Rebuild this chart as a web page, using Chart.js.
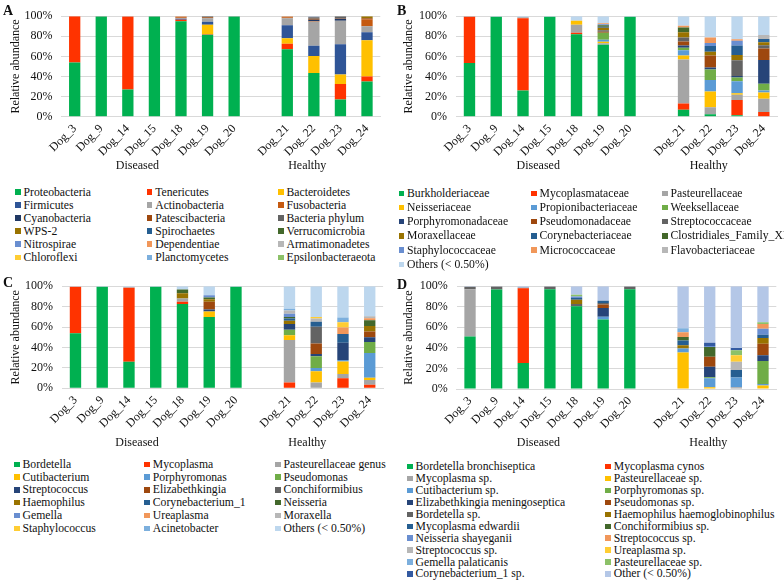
<!DOCTYPE html>
<html><head><meta charset="utf-8">
<script src="https://cdn.jsdelivr.net/npm/chart.js@4/dist/chart.umd.min.js"></script>
<style>
html,body{margin:0;padding:0;background:#fff}
body{width:784px;height:581px;position:relative;overflow:hidden;font-family:"Liberation Serif","Times New Roman",serif;color:#111}
.cv{position:absolute}
.letter{position:absolute;font-weight:bold;font-size:14px;line-height:14px}
.li{position:absolute;height:14px;display:flex;align-items:center;font-size:11.7px;white-space:nowrap}
.li span{display:inline-block;width:5.5px;height:5.5px;margin-right:3px;flex:none}
</style>
</head><body>
<canvas id="cA" class="cv" width="392" height="175" style="left:0;top:0"></canvas>
<canvas id="cB" class="cv" width="392" height="175" style="left:392px;top:0"></canvas>
<canvas id="cC" class="cv" width="392" height="185" style="left:0;top:270px"></canvas>
<canvas id="cD" class="cv" width="392" height="185" style="left:392px;top:270px"></canvas>
<script>
// ---------- shared categories ----------
const dogs = ['Dog_3','Dog_9','Dog_14','Dog_15','Dog_18','Dog_19','Dog_20','Dog_21','Dog_22','Dog_23','Dog_24'];
const groupNames = ['Diseased','Healthy'];
const diseasedDogs = ['Dog_3','Dog_9','Dog_14','Dog_15','Dog_18','Dog_19','Dog_20'];
const healthyDogs = ['Dog_21','Dog_22','Dog_23','Dog_24'];
const yTickValues = [0,20,40,60,80,100];

// ---------- A: phylum ----------
const phylumNames = ['Proteobacteria','Tenericutes','Bacteroidetes','Firmicutes','Actinobacteria','Fusobacteria','Cyanobacteria','Patescibacteria','Bacteria phylum','WPS-2','Spirochaetes','Verrucomicrobia','Nitrospirae','Dependentiae','Armatimonadetes','Chloroflexi','Planctomycetes','Epsilonbacteraeota'];
const phylumValues = [
  [54, 99.6, 27, 99.7, 95, 81.5, 99.7, 67, 43.5, 17, 35],
  [46, 0, 72.8, 0, 1.5, 0.5, 0, 5.5, 0, 15.5, 5],
  [0, 0, 0, 0, 0, 9.5, 0, 5.5, 17, 9.5, 36],
  [0, 0.2, 0, 0, 1, 3, 0, 13, 10, 30, 8],
  [0, 0, 0.2, 0, 0.5, 3.5, 0, 7, 24, 23.5, 6],
  [0, 0, 0, 0, 1, 0, 0, 1, 0.5, 0, 7],
  [0, 0, 0, 0, 0, 0, 0, 0, 1.5, 2, 0],
  [0, 0, 0, 0, 0.5, 1, 0, 0.5, 1, 0.5, 1],
  [0, 0.2, 0, 0.3, 0, 1, 0.3, 0, 1.5, 2, 0],
  [0, 0, 0, 0, 0, 0, 0, 0, 0, 0, 2],
  [0, 0, 0, 0, 0, 0, 0, 0, 0, 0, 0],
  [0, 0, 0, 0, 0, 0, 0, 0, 0, 0, 0],
  [0, 0, 0, 0, 0, 0, 0, 0, 0.5, 0, 0],
  [0, 0, 0, 0, 0.5, 0, 0, 0.5, 0, 0, 0],
  [0, 0, 0, 0, 0, 0, 0, 0, 0.5, 0, 0],
  [0, 0, 0, 0, 0, 0, 0, 0, 0, 0, 0],
  [0, 0, 0, 0, 0, 0, 0, 0, 0, 0, 0],
  [0, 0, 0, 0, 0, 0, 0, 0, 0, 0, 0]
];
const phylumColors = ['#00B050','#FF3300','#FFC000','#2F5597','#A5A5A5','#C55A11','#203864','#9E480E','#636363','#997300','#255E91','#43682B','#698ED0','#F1975A','#B7B7B7','#FFCD33','#7CAFDD','#8CC168'];

// ---------- B: family ----------
const familyNames = ['Burkholderiaceae','Mycoplasmataceae','Pasteurellaceae','Neisseriaceae','Propionibacteriaceae','Weeksellaceae','Porphyromonadaceae','Pseudomonadaceae','Streptococcaceae','Moraxellaceae','Corynebacteriaceae','Clostridiales_Family_XI','Staphylococcaceae','Micrococcaceae','Flavobacteriaceae','Others (< 0.50%)'];
const familyValues = [
  [53.5, 99.5, 26, 99.5, 82, 71.5, 99.5, 7, 2.5, 1.5, 0],
  [46, 0, 72, 0, 1.5, 0, 0, 6.2, 0, 15, 4.7],
  [0.5, 0, 1, 0, 8, 1.5, 0, 43.8, 6.9, 5.3, 13.1],
  [0, 0, 0, 0, 4, 1.5, 0, 3.8, 15.6, 1.5, 6.3],
  [0, 0, 0, 0, 0, 2, 0, 5.3, 11.6, 11.9, 1.9],
  [0, 0, 0, 0, 0, 7, 0, 2.5, 10.3, 3.7, 6.9],
  [0, 0, 0, 0, 0, 0, 0, 2.2, 2.1, 1.6, 23.4],
  [0, 0, 0, 0, 0, 1, 0, 4, 12, 0, 11.6],
  [0, 0, 0, 0, 0, 1.5, 0, 4, 0, 15.6, 3.1],
  [0, 0, 0, 0, 0, 2.5, 0, 5.3, 3.7, 5.3, 3.1],
  [0, 0, 0, 0, 0, 1, 0, 0, 5.6, 9.4, 3.1],
  [0, 0, 0, 0, 0, 1.5, 0, 4.7, 0, 0, 0],
  [0, 0, 0, 0, 0, 1, 0, 0, 3.1, 4.7, 0],
  [0, 0, 0, 0, 0, 1, 0, 1.6, 5.3, 1.6, 0],
  [0, 0, 0, 0, 0, 0, 0, 0, 0, 0, 4],
  [0, 0.5, 1, 0.5, 4.5, 7, 0.5, 9.6, 21.3, 22.9, 18.8]
];
const familyColors = ['#00B050','#FF3300','#A5A5A5','#FFC000','#5B9BD5','#70AD47','#264478','#9E480E','#636363','#997300','#255E91','#43682B','#698ED0','#F1975A','#B7B7B7','#BDD7EE'];

// ---------- C: genus ----------
const genusNames = ['Bordetella','Mycoplasma','Pasteurellaceae genus','Cutibacterium','Porphyromonas','Pseudomonas','Streptococcus','Elizabethkingia','Conchiformibius','Haemophilus','Corynebacterium_1','Neisseria','Gemella','Ureaplasma','Moraxella','Staphylococcus','Acinetobacter','Others (< 0.50%)'];
const genusValues = [
  [54, 99.5, 26, 99.5, 82.5, 69.8, 99.5, 0, 0, 0, 0],
  [45.5, 0, 72.4, 0, 2.3, 0, 0, 5.7, 0, 9.8, 3.5],
  [0, 0, 0.6, 0, 3.1, 0, 0, 41.5, 5.7, 4.1, 4.7],
  [0, 0, 0, 0, 0, 5.4, 0, 4.7, 11.1, 12.4, 2.2],
  [0, 0, 0, 0, 0, 0, 0, 0, 3.1, 1.5, 24.1],
  [0, 0, 0, 0, 0, 0, 0, 5.4, 11.4, 0, 10.8],
  [0, 0, 0, 0, 0, 1.9, 0, 5.7, 2.2, 16.8, 4.7],
  [0, 0, 0, 0, 0, 7.7, 0, 0, 10.5, 0, 5.7],
  [0, 0, 0, 0, 0, 0, 0, 0, 16.4, 0, 0],
  [0, 0, 0, 0, 5.1, 2.5, 0, 3.2, 0, 0, 5.3],
  [0, 0, 0, 0, 0, 0, 0, 2.2, 4.8, 8.6, 0],
  [0, 0, 0, 0, 3.8, 1.6, 0, 1.5, 0, 0, 5.7],
  [0, 0, 0, 0, 0, 2.2, 0, 3.2, 0, 0, 0],
  [0, 0, 0, 0, 0, 0, 0, 0, 0, 6.3, 1.9],
  [0, 0, 0, 0, 0, 0, 0, 3.2, 3.2, 0, 1.9],
  [0, 0, 0, 0, 0, 0, 0, 0, 1.5, 5.1, 0],
  [0, 0, 0, 0, 0, 0, 0, 1.5, 0, 4.7, 0],
  [0.5, 0.5, 1, 0.5, 3.2, 8.9, 0.5, 22.2, 30.1, 30.7, 29.5]
];
const genusColors = ['#00B050','#FF3300','#A5A5A5','#FFC000','#5B9BD5','#70AD47','#264478','#9E480E','#636363','#997300','#255E91','#43682B','#698ED0','#F1975A','#B7B7B7','#FFCD33','#7CAFDD','#BDD7EE'];

// ---------- D: species ----------
const speciesNames = ['Bordetella bronchiseptica','Mycoplasma cynos','Mycoplasma sp.','Pasteurellaceae sp.','Cutibacterium sp.','Porphyromonas sp.','Elizabethkingia meningoseptica','Pseudomonas sp.','Bordetella sp.','Haemophilus haemoglobinophilus','Mycoplasma edwardii','Conchiformibius sp.','Neisseria shayeganii','Streptococcus sp.','Streptococcus sp.','Ureaplasma sp.','Gemella palaticanis','Pasteurellaceae sp.','Corynebacterium_1 sp.','Other (< 0.50%)'];
const speciesValues = [
  [51, 96.8, 25.2, 97, 80.5, 67.7, 97, 0, 0, 0, 0],
  [0, 0, 72.9, 0, 0, 0, 0, 0, 0, 0, 0],
  [46, 0, 0, 0, 0, 0, 0, 0, 0, 1.6, 0],
  [0, 0, 0, 0, 0, 0, 0, 35.5, 1.6, 0, 3.5],
  [0, 0, 0, 0, 0, 2.6, 0, 3.8, 8.9, 9.6, 1.3],
  [0, 0, 0, 0, 0, 0, 0, 0, 1, 0, 22.4],
  [0, 0, 0, 0, 0, 8.6, 0, 0, 10.2, 0, 5.7],
  [0, 0, 0, 0, 0, 3.2, 0, 0, 9.6, 0, 11.2],
  [2.4, 3, 0.5, 2.8, 2.2, 1.6, 2.8, 0, 0, 0, 0],
  [0, 0, 0, 0, 4.2, 0, 0, 3.2, 0, 0, 5.4],
  [0, 0, 0, 0, 1.6, 2.2, 0, 4.8, 0, 7.3, 3.2],
  [0, 0, 0, 0, 0, 0, 0, 3.2, 9.6, 0, 0],
  [0, 0, 0, 0, 1.6, 0, 0, 0, 1, 0, 5.8],
  [0, 0, 0, 0, 0, 0, 0, 4.8, 0, 0, 4.8],
  [0, 0, 0, 0, 0, 0, 0, 0, 0, 8, 0],
  [0, 0, 0, 0, 0, 0, 0, 0, 0, 6.4, 0],
  [0, 0, 0, 0, 0, 0, 0, 3.8, 0, 0, 0],
  [0, 0, 0, 0, 1.6, 0, 0, 0, 0, 4.8, 1.6],
  [0, 0, 0, 0, 0, 0, 0, 0, 3.2, 2.2, 0],
  [0.6, 0.2, 1.4, 0.2, 8.3, 14.1, 0.2, 40.9, 54.9, 60.1, 35.1]
];
const speciesColors = ['#00B050','#FF3300','#A5A5A5','#FFC000','#5B9BD5','#70AD47','#264478','#9E480E','#636363','#997300','#255E91','#43682B','#698ED0','#F1975A','#B7B7B7','#FFCD33','#7CAFDD','#8CC168','#335AA1','#B4C7E7'];

// ---------- layout (positions only) ----------
const FONT = '"Liberation Serif", "Times New Roman", serif';
const TXT = '#111';
const panels = [
  {canvas:'cA', letter:'A', lx:3, ly:4, names:phylumNames, values:phylumValues, colors:phylumColors,
   padTop:10, padRight:11.7, yW:61.4, xH:58.3, titlePad:8.3, groupY:166, shift:[-17,-20],
   leg:{x:[15,146.7,278], y0:192, dy:13.06, ncol:3}},
  {canvas:'cB', letter:'B', lx:397, ly:4, names:familyNames, values:familyValues, colors:familyColors,
   padTop:10, padRight:6.8, yW:64.1, xH:58.3, titlePad:9.5, groupY:166, shift:[-11.5,-15],
   leg:{x:[398.5,531,662], y0:193.3, dy:14.2, ncol:3}},
  {canvas:'cC', letter:'C', lx:3, ly:276, names:genusNames, values:genusValues, colors:genusColors,
   padTop:13, padRight:8.9, yW:62.1, xH:66.7, titlePad:9, groupY:172.7, shift:[-18.7,-22.3],
   leg:{x:[14,144.3,275], y0:464.3, dy:12.8, ncol:3}},
  {canvas:'cD', letter:'D', lx:397, ly:278, names:speciesNames, values:speciesValues, colors:speciesColors,
   padTop:14.7, padRight:7.7, yW:64.7, xH:66, titlePad:9.8, groupY:173, shift:[-11.5,-14.7],
   leg:{x:[407,605.3], y0:466.7, dy:11.92, ncol:2}}
];

const labels = diseasedDogs.concat([''], healthyDogs);
const groups = [diseasedDogs, healthyDogs];

const groupLabelPlugin = {
  id: 'groupLabels',
  afterDraw(chart, args, opts) {
    const xs = chart.scales.x, ctx = chart.ctx;
    ctx.save();
    ctx.font = '12px ' + FONT;
    ctx.fillStyle = TXT;
    ctx.textAlign = 'center';
    ctx.textBaseline = 'middle';
    groupNames.forEach((g, i) => {
      const mem = groups[i];
      const a = xs.getPixelForValue(labels.indexOf(mem[0]));
      const b = xs.getPixelForValue(labels.indexOf(mem[mem.length - 1]));
      ctx.fillText(g, (a + b) / 2 + opts.shift[i], opts.y);
    });
    ctx.restore();
  }
};

Chart.defaults.font.family = FONT;
Chart.defaults.font.size = 12;
Chart.defaults.color = TXT;

panels.forEach(p => {
  // letter
  const L = document.createElement('div');
  L.className = 'letter'; L.textContent = p.letter;
  L.style.left = p.lx + 'px'; L.style.top = p.ly + 'px';
  document.body.appendChild(L);

  // legend
  p.names.forEach((n, i) => {
    const r = Math.floor(i / p.leg.ncol), c = i % p.leg.ncol;
    const d = document.createElement('div');
    d.className = 'li';
    d.style.left = p.leg.x[c] + 'px';
    d.style.top = (p.leg.y0 + r * p.leg.dy - 7) + 'px';
    const s = document.createElement('span');
    s.style.background = p.colors[i];
    d.appendChild(s);
    d.appendChild(document.createTextNode(n));
    document.body.appendChild(d);
  });

  const datasets = p.names.map((n, i) => {
    const data = labels.map(l => l === '' ? null : p.values[i][dogs.indexOf(l)]);
    return {label: n, data, backgroundColor: p.colors[i], borderWidth: 0,
            barPercentage: 0.425, categoryPercentage: 1};
  });

  new Chart(document.getElementById(p.canvas), {
    type: 'bar',
    data: {labels, datasets},
    plugins: [groupLabelPlugin],
    options: {
      responsive: false, animation: false, devicePixelRatio: 1,
      layout: {padding: {top: p.padTop, right: p.padRight, left: 0, bottom: 0}},
      plugins: {legend: {display: false}, tooltip: {enabled: false},
                groupLabels: {y: p.groupY, shift: p.shift}},
      scales: {
        x: {
          stacked: true,
          grid: {display: false, drawTicks: false},
          border: {display: true, color: '#D9D9D9'},
          ticks: {autoSkip: false, minRotation: 45, maxRotation: 45, padding: 5, font: {size: 12}},
          afterFit: s => { s.height = p.xH; }
        },
        y: {
          stacked: true, min: 0, max: 100,
          afterBuildTicks: s => { s.ticks = yTickValues.map(v => ({value: v})); },
          grid: {color: '#D9D9D9', drawTicks: false},
          border: {display: false},
          ticks: {padding: 9, callback: v => v + '%', font: {size: 12}},
          title: {display: true, text: 'Relative abundance', font: {size: 12}, padding: {top: p.titlePad}},
          afterFit: s => { s.width = p.yW; }
        }
      }
    }
  });
});
</script>
</body></html>
